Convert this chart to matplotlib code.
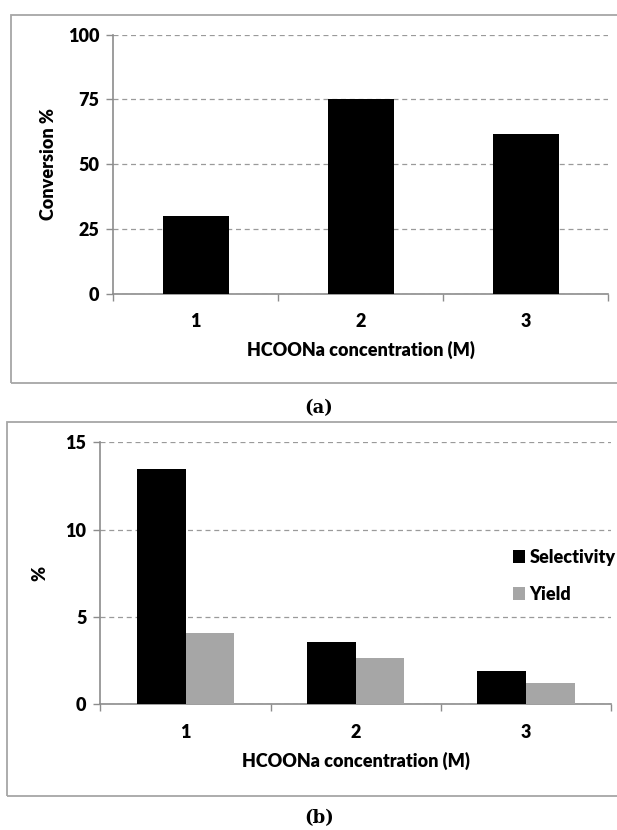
import matplotlib.pyplot as plt
import matplotlib.patches as mpatches
import numpy as np

# data
categories = ['1', '2', '3']
conversion = [30.1, 75.0, 61.8]
selectivity = [13.5, 3.57, 1.92]
yield_pct = [4.1, 2.67, 1.2]

FONT = ['Lato', 'DejaVu Sans']
GRID = '#9a9a9a'
AXIS = '#8c8c8c'
FS = 13
WT = 'heavy'

plt.rcParams['font.family'] = FONT
plt.rcParams['font.weight'] = WT

fig = plt.figure(figsize=(6.17, 8.30), dpi=100)
W, H = 617.0, 830.0


def frac_box(x0, y0, x1, y1):
    # pixel box (top-left origin) -> figure fraction rect
    return [x0 / W, 1 - y1 / H, (x1 - x0) / W, (y1 - y0) / H]


def style_axes(ax, ymax, step):
    x = np.arange(len(categories))
    ax.set_xlim(-0.5, len(categories) - 0.5)
    ax.set_ylim(0, ymax)
    ax.set_yticks(np.arange(0, ymax + step / 2, step))
    ax.set_xticks(x)
    ax.set_xticklabels(categories)
    ax.set_xticks(np.arange(-0.5, len(categories)), minor=True)
    ax.tick_params(axis='x', which='major', length=0, pad=14, labelsize=FS)
    ax.tick_params(axis='x', which='minor', length=5, width=1, color=AXIS,
                   direction='out')
    ax.tick_params(axis='y', length=5, width=1, color=AXIS, labelsize=FS,
                   pad=5)
    for side in ('top', 'right'):
        ax.spines[side].set_visible(False)
    for side in ('left', 'bottom'):
        ax.spines[side].set_color(AXIS)
        ax.spines[side].set_linewidth(1.2)
    ax.yaxis.grid(True, linestyle=(0, (4, 3)), color=GRID, linewidth=0.9)
    ax.set_axisbelow(True)
    ax.set_xlabel('HCOONa concentration (M)', fontsize=FS,
                  fontweight=WT, labelpad=8)


# frames around each panel
for box in [(10.6, 15, 640, 383), (7, 421.7, 640, 796)]:
    x0, y0, w, h = frac_box(*box)
    fig.patches.append(mpatches.Rectangle((x0, y0), w, h,
                                          transform=fig.transFigure,
                                          fill=False, edgecolor='#a6a6a6',
                                          linewidth=1.3, clip_on=False))

# (a) conversion
ax1 = fig.add_axes(frac_box(113, 34.7, 608, 293.7))
x = np.arange(len(categories))
ax1.bar(x, conversion, width=0.4, color='black', zorder=3)
style_axes(ax1, 100, 25)
ax1.set_ylabel('Conversion %', fontsize=FS, fontweight=WT, labelpad=8)

# (b) selectivity and yield
ax2 = fig.add_axes(frac_box(100.4, 442.3, 611, 704.3))
bw = 0.2857
ax2.bar(x - bw / 2, selectivity, width=bw, color='black', zorder=3,
        label='Selectivity')
ax2.bar(x + bw / 2, yield_pct, width=bw, color='#a6a6a6', zorder=3,
        label='Yield')
style_axes(ax2, 15, 5)
ax2.set_ylabel('%', fontsize=FS, fontweight=WT, labelpad=12)
ax2.legend(loc='center left', bbox_to_anchor=(0.793, 0.49), frameon=False,
           fontsize=FS, handlelength=0.7, handleheight=0.7,
           handletextpad=0.25, labelspacing=1.1, borderaxespad=0)

# panel captions
fig.text(319 / W, 1 - 408 / H, '(a)', family='DejaVu Serif', fontsize=13,
         ha='center', va='center', fontweight='bold')
fig.text(319 / W, 1 - 818 / H, '(b)', family='DejaVu Serif', fontsize=13,
         ha='center', va='center', fontweight='bold')

fig.savefig('out.png', dpi=100)
